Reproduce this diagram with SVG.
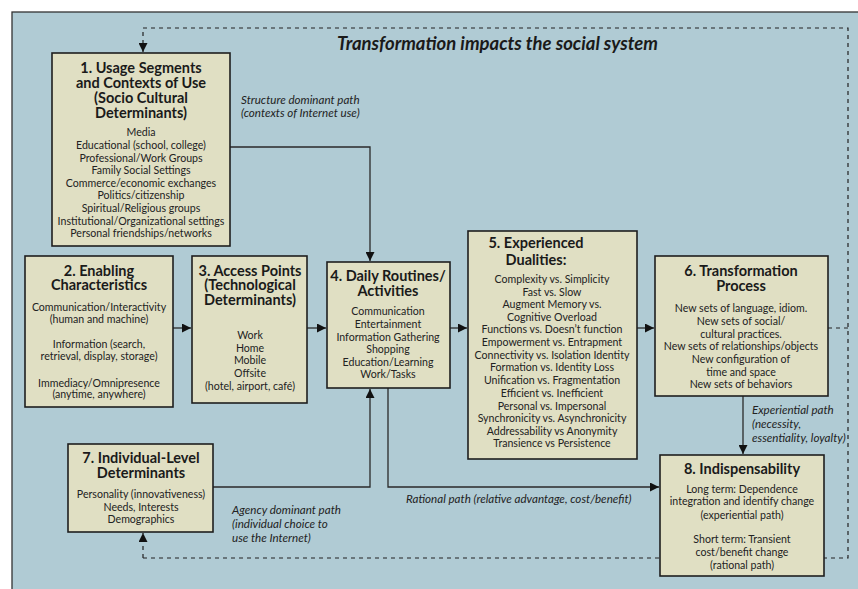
<svg xmlns="http://www.w3.org/2000/svg" width="858" height="589" viewBox="0 0 858 589">
<defs>
<marker id="arr" viewBox="0 0 10 10" refX="10" refY="5" markerWidth="9" markerHeight="9" markerUnits="userSpaceOnUse" orient="auto">
<path d="M0,0 L10,5 L0,10 Z" fill="#111"/>
</marker>
</defs>
<style>
.box{fill:#e0dfc3;stroke:#1e1e1e;stroke-width:1.6}
.t{font-family:Lato,"Liberation Sans",sans-serif;font-weight:bold;font-size:14.5px;fill:#1a1a1a;text-anchor:middle}
.b{font-family:Lato,"Liberation Sans",sans-serif;font-size:10.6px;fill:#222;text-anchor:middle}
.lab{font-family:Lato,"Liberation Sans",sans-serif;font-style:italic;font-size:11.6px;fill:#222}
.c{fill:none;stroke:#2a2a2a;stroke-width:1.3}
.d{fill:none;stroke:#222;stroke-width:1.2;stroke-dasharray:4 4}
</style>
<rect x="0" y="0" width="858" height="589" fill="#ffffff"/>
<rect x="12" y="12" width="870" height="600" fill="#b0cbd4" stroke="#333" stroke-width="1.3"/>
<text x="337" y="50" font-family="Lato,'Liberation Sans',sans-serif" font-weight="bold" font-style="italic" font-size="18.5" fill="#1a1a1a">Transformation impacts the social system</text>
<g id="connectors">
<path class="d" d="M143,558 H848 V28 H143 V52" marker-end="url(#arr)"/>
<path class="d" d="M143,558 V533" marker-end="url(#arr)"/>
<path class="d" d="M828,328 H848"/>
<path class="c" d="M230,147 H370 V261" marker-end="url(#arr)"/>
<path class="c" d="M173,328 H191" marker-end="url(#arr)"/>
<path class="c" d="M307,328 H326" marker-end="url(#arr)"/>
<path class="c" d="M450,328 H467" marker-end="url(#arr)"/>
<path class="c" d="M637,328 H654" marker-end="url(#arr)"/>
<path class="c" d="M743,396 V454" marker-end="url(#arr)"/>
<path class="c" d="M213,487 H370 V389" marker-end="url(#arr)"/>
<path class="c" d="M388,388 V487 H659" marker-end="url(#arr)"/>
</g>
<g id="labels">
<text class="lab" x="241" y="104">Structure dominant path</text>
<text class="lab" x="241" y="117">(contexts of Internet use)</text>
<text class="lab" x="232" y="514">Agency dominant path</text>
<text class="lab" x="232" y="528">(individual choice to</text>
<text class="lab" x="232" y="542">use the Internet)</text>
<text class="lab" x="752" y="414">Experiential path</text>
<text class="lab" x="752" y="428">(necessity,</text>
<text class="lab" x="752" y="442">essentiality, loyalty)</text>
<text class="lab" x="406" y="503">Rational path (relative advantage, cost/benefit)</text>
</g>
<g id="node1">
<rect class="box" x="52" y="53" width="178" height="193"/>
<text class="t" x="141" y="73">1. Usage Segments</text>
<text class="t" x="141" y="88">and Contexts of Use</text>
<text class="t" x="141" y="103">(Socio Cultural</text>
<text class="t" x="141" y="118">Determinants)</text>
<text class="b" x="141" y="136">Media</text>
<text class="b" x="141" y="149">Educational (school, college)</text>
<text class="b" x="141" y="162">Professional/Work Groups</text>
<text class="b" x="141" y="174">Family Social Settings</text>
<text class="b" x="141" y="187">Commerce/economic exchanges</text>
<text class="b" x="141" y="199">Politics/citizenship</text>
<text class="b" x="141" y="212">Spiritual/Religious groups</text>
<text class="b" x="141" y="225">Institutional/Organizational settings</text>
<text class="b" x="141" y="237">Personal friendships/networks</text>
</g>
<g id="node2">
<rect class="box" x="25" y="256" width="148" height="151"/>
<text class="t" x="99" y="276">2. Enabling</text>
<text class="t" x="99" y="290">Characteristics</text>
<text class="b" x="99" y="311">Communication/Interactivity</text>
<text class="b" x="99" y="323">(human and machine)</text>
<text class="b" x="99" y="348">Information (search,</text>
<text class="b" x="99" y="360">retrieval, display, storage)</text>
<text class="b" x="99" y="387">Immediacy/Omnipresence</text>
<text class="b" x="99" y="398">(anytime, anywhere)</text>
</g>
<g id="node3">
<rect class="box" x="192" y="256" width="115" height="147"/>
<text class="t" x="250" y="276">3. Access Points</text>
<text class="t" x="250" y="290">(Technological</text>
<text class="t" x="250" y="305">Determinants)</text>
<text class="b" x="250" y="339">Work</text>
<text class="b" x="250" y="352">Home</text>
<text class="b" x="250" y="364">Mobile</text>
<text class="b" x="250" y="377">Offsite</text>
<text class="b" x="250" y="390">(hotel, airport, café)</text>
</g>
<g id="node4">
<rect class="box" x="327" y="262" width="123" height="126"/>
<text class="t" x="388" y="281">4. Daily Routines/</text>
<text class="t" x="388" y="296">Activities</text>
<text class="b" x="388" y="315">Communication</text>
<text class="b" x="388" y="328">Entertainment</text>
<text class="b" x="388" y="341">Information Gathering</text>
<text class="b" x="388" y="353">Shopping</text>
<text class="b" x="388" y="366">Education/Learning</text>
<text class="b" x="388" y="378">Work/Tasks</text>
</g>
<g id="node5">
<rect class="box" x="468" y="231" width="169" height="228"/>
<text class="t" x="536" y="248">5. Experienced</text>
<text class="t" x="536" y="265">Dualities:</text>
<text class="b" x="552" y="283">Complexity vs. Simplicity</text>
<text class="b" x="552" y="296">Fast vs. Slow</text>
<text class="b" x="552" y="308">Augment Memory vs.</text>
<text class="b" x="552" y="321">Cognitive Overload</text>
<text class="b" x="552" y="333">Functions vs. Doesn’t function</text>
<text class="b" x="552" y="346">Empowerment vs. Entrapment</text>
<text class="b" x="552" y="359">Connectivity vs. Isolation Identity</text>
<text class="b" x="552" y="371">Formation vs. Identity Loss</text>
<text class="b" x="552" y="384">Unification vs. Fragmentation</text>
<text class="b" x="552" y="397">Efficient vs. Inefficient</text>
<text class="b" x="552" y="410">Personal vs. Impersonal</text>
<text class="b" x="552" y="422">Synchronicity vs. Asynchronicity</text>
<text class="b" x="552" y="435">Addressability vs Anonymity</text>
<text class="b" x="552" y="447">Transience vs Persistence</text>
</g>
<g id="node6">
<rect class="box" x="655" y="256" width="173" height="140"/>
<text class="t" x="741" y="276">6. Transformation</text>
<text class="t" x="741" y="291">Process</text>
<text class="b" x="741" y="312">New sets of language, idiom.</text>
<text class="b" x="741" y="325">New sets of social/</text>
<text class="b" x="741" y="338">cultural practices.</text>
<text class="b" x="741" y="350">New sets of relationships/objects</text>
<text class="b" x="741" y="363">New configuration of</text>
<text class="b" x="741" y="376">time and space</text>
<text class="b" x="741" y="388">New sets of behaviors</text>
</g>
<g id="node7">
<rect class="box" x="68" y="444" width="145" height="88"/>
<text class="t" x="141" y="463">7. Individual-Level</text>
<text class="t" x="141" y="478">Determinants</text>
<text class="b" x="141" y="498">Personality (innovativeness)</text>
<text class="b" x="141" y="511">Needs, Interests</text>
<text class="b" x="141" y="523">Demographics</text>
</g>
<g id="node8">
<rect class="box" x="660" y="455" width="164" height="121"/>
<text class="t" x="742" y="474">8. Indispensability</text>
<text class="b" x="742" y="493">Long term: Dependence</text>
<text class="b" x="742" y="505">integration and identify change</text>
<text class="b" x="742" y="519">(experiential path)</text>
<text class="b" x="742" y="543">Short term: Transient</text>
<text class="b" x="742" y="556">cost/benefit change</text>
<text class="b" x="742" y="569">(rational path)</text>
</g>
</svg>
